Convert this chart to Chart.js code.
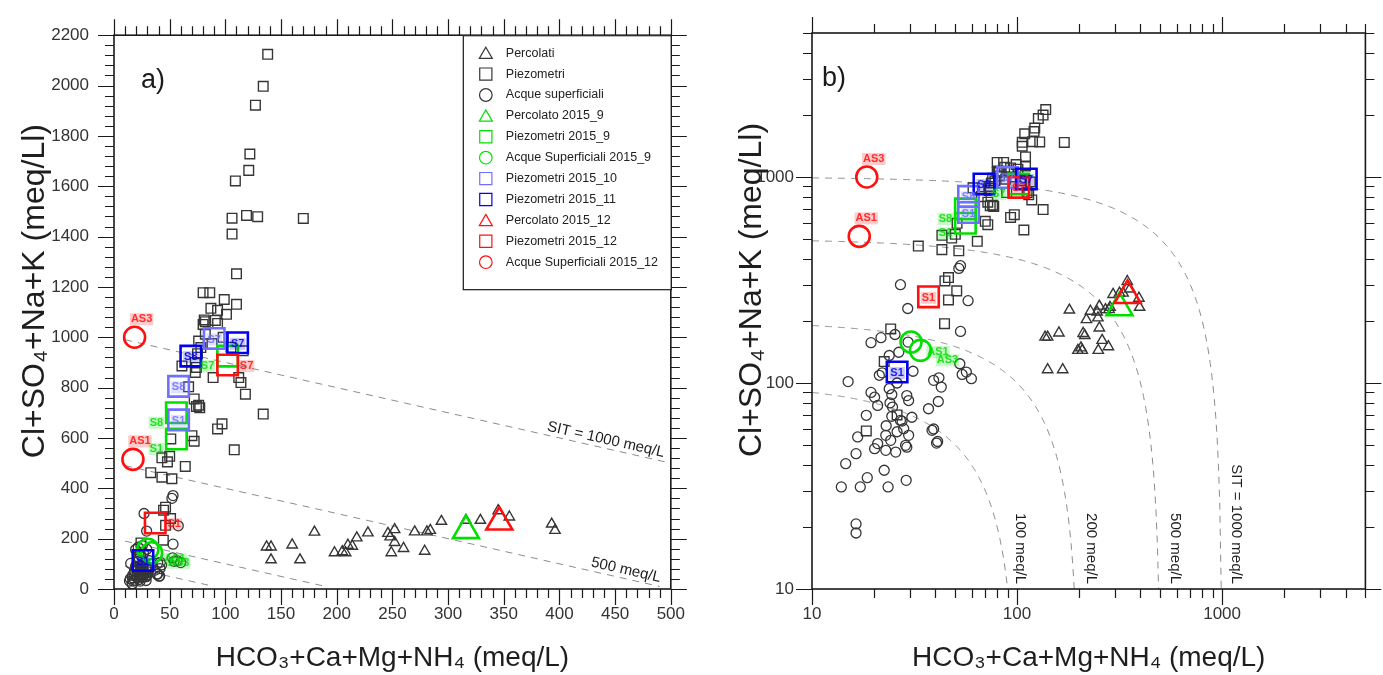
<!DOCTYPE html>
<html><head><meta charset="utf-8">
<script src="https://cdn.jsdelivr.net/npm/chart.js@4/dist/chart.umd.min.js"></script>
<style>
html,body{margin:0;padding:0;background:#fff;width:1383px;height:675px;overflow:hidden}
#wa{position:absolute;left:0;top:0;width:700px;height:675px}
#wb{position:absolute;left:700px;top:0;width:683px;height:675px}
</style></head><body>
<div id="wa"><canvas id="ca" width="700" height="675"></canvas></div>
<div id="wb"><canvas id="cb" width="683" height="675"></canvas></div>
<script>
const FONT = '"Liberation Sans", Arial, Helvetica, sans-serif';

// ---------------- data (x = HCO3+Ca+Mg+NH4, y = Cl+SO4+Na+K, meq/L) ----------------
const PERCOLATI = [[137,167],[141,167],[141,116],[160,175],[167,116],[180,226],[198,144],[205,148],[208,144],[210,174],[214,170],[218,203],[228,223],[246,221],[248,207],[249,144],[252,236],[252,185],[260,161],[270,227],[279,150],[281,227],[284,233],[294,269],[316,273],[329,273],[345,311],[355,286],[393,258],[396,233]];
const PIEZOMETRI = [[138,2124],[134,1997],[127,1922],[122,1728],[121,1663],[109,1621],[106,1473],[119,1484],[129,1479],[170,1472],[106,1410],[110,1252],
 [80,1177],[86,1177],[99,1150],[110,1131],[87,1115],[93,1107],[101,1091],[82,1062],[80,1051],[91,1067],[93,1055],[81,1069],[82,1012],
 [76,985],[78,959],[75,935],[88,975],[98,1000],[105,960],[116,946],[61,886],[73,900],[74,880],[73,860],[89,840],[112,840],[114,820],[118,774],[67,803],[72,755],
 [74,725],[77,720],[76,730],[134,695],[97,656],[93,636],[70,609],[72,587],[51,596],[108,553],[43,521],[50,527],[48,505],[64,487],[33,462],[43,444],[52,438],
 [44.5,313],[46.3,325],[50.8,280],[46.3,253],[44.3,194],[24.2,183],[22.5,127],[26,70],[18.4,58.5]];
const ACQUE_SUP = [[27,300],[29.3,230],[57.7,251],[53,178],[53,371],[52,360],[19.4,157],[21.7,166],[25.4,172],[29.4,158],[52.6,124],[56.6,113],[54,110],[59.9,105],
 [31.1,114],[15,101.6],[21.3,109],[22,112],[39.2,103],[41.6,106],[42.7,95.5],[23.8,93.8],[24.5,87.9],[20.2,85.3],[20.9,77.8],[29,86.9],[29.6,82.2],[37,75],
 [41.3,81.3],[18.4,69.7],[24.7,76.4],[24.5,68.9],[27,65.8],[27.5,65.3],[30.7,68.2],[38.5,58.9],[39.2,59.8],[40.5,51.1],[41,52],[16.7,54.7],[22.9,55.7],
 [24.2,52.7],[20.9,50.8],[22.9,47.1],[25.6,46.2],[29,48.8],[28.6,49.8],[29.6,55.7],[20.2,48],[16.4,45.4],[14.6,40.6],[22.5,37.7],[18.6,34.7],[28.8,33.7],
 [13.9,31.3],[17.2,31.3],[23.5,31.3],[16.4,20.7],[16.4,18.7],[23.8,136],[26.5,141],[19.4,90],[26,100],[24,80],[28,60],[26,58],[23,62]];
const PERCOLATO_2015_9 = [[316,232]];
const PIEZOMETRI_2015_9 = [[56,700],[56,596],[102,925]];
const PIEZOMETRI_2015_9_LBL = ['S8','S1','S7'];
const ACQUE_SUP_2015_9 = [[30.4,158],[33.8,144]];
const ACQUE_SUP_2015_9_LBL = ['AS1','AS3'];
const PIEZOMETRI_2015_10 = [[90,995],[58,805],[58,672]];
const PIEZOMETRI_2015_10_LBL = ['S7','S8','S1'];
const PIEZOMETRI_2015_11 = [[69,925],[111,978],[26,113]];
const PIEZOMETRI_2015_11_LBL = ['S8','S7','S1'];
const PERCOLATO_2015_12 = [[346,266]];
const PIEZOMETRI_2015_12 = [[37,262],[102,890]];
const PIEZOMETRI_2015_12_LBL = ['S1','S7'];
const ACQUE_SUP_2015_12 = [[18.5,1000],[17,515]];
const ACQUE_SUP_2015_12_LBL = ['AS3','AS1'];

const SIT_LEVELS = [100, 200, 500, 1000];
const X_TICKS_LIN = [0,50,100,150,200,250,300,350,400,450,500];
const Y_TICKS_LIN = [0,200,400,600,800,1000,1200,1400,1600,1800,2000,2200];
const TICKS_LOG = [10,100,1000];

const X_TITLE = 'HCO\u2083+Ca+Mg+NH\u2084 (meq/L)';
const Y_TITLE = 'Cl+SO\u2084+Na+K (meq/Ll)';

// ---------------- styles ----------------
const GRAY = '#363636', GREEN = '#00e000', LBLUE = '#7070ff', BLUE = '#0000ee', RED = '#ff1010';

function pts(a){ return a.map(([x,y]) => ({x, y})); }
function ds(label, arr, style, r, color, bw, order, lbl, key){
  return {label, data: pts(arr), pointStyle: style, pointRadius: r, pointHoverRadius: r,
    borderColor: color, pointBorderColor: color, borderWidth: bw, pointBorderWidth: bw,
    backgroundColor: 'rgba(0,0,0,0)', pointBackgroundColor: 'rgba(0,0,0,0)', order, pointLabels: lbl, key};
}
function buildDatasets(){
  return [
    ds('Percolati', PERCOLATI, 'triangle', 6, GRAY, 1.4, 10),
    ds('Piezometri', PIEZOMETRI, 'rect', 6.8, GRAY, 1.4, 10),
    ds('Acque superficiali', ACQUE_SUP, 'circle', 5, GRAY, 1.3, 10),
    ds('Percolato 2015_9', PERCOLATO_2015_9, 'triangle', 15, GREEN, 2.6, 6),
    ds('Piezometri 2015_9', PIEZOMETRI_2015_9, 'rect', 14.5, GREEN, 2.6, 6, PIEZOMETRI_2015_9_LBL, 'g'),
    ds('Acque Superficiali 2015_9', ACQUE_SUP_2015_9, 'circle', 10.5, GREEN, 2.6, 6, ACQUE_SUP_2015_9_LBL, 'gc'),
    ds('Piezometri 2015_10', PIEZOMETRI_2015_10, 'rect', 14.5, LBLUE, 2.6, 5, PIEZOMETRI_2015_10_LBL, 'lb'),
    ds('Piezometri 2015_11', PIEZOMETRI_2015_11, 'rect', 14.5, BLUE, 2.6, 4, PIEZOMETRI_2015_11_LBL, 'b'),
    ds('Percolato 2015_12', PERCOLATO_2015_12, 'triangle', 15, RED, 2.6, 3),
    ds('Piezometri 2015_12', PIEZOMETRI_2015_12, 'rect', 14.5, RED, 2.6, 3, PIEZOMETRI_2015_12_LBL, 'r'),
    ds('Acque Superficiali 2015_12', ACQUE_SUP_2015_12, 'circle', 10.5, RED, 2.6, 3, ACQUE_SUP_2015_12_LBL, 'rc')
  ];
}

// ---------------- plugins ----------------
const frameTicks = {
  id: 'frameTicks',
  afterDraw(chart){
    const o = chart.options.plugins.frameTicks;
    const {ctx, chartArea: a} = chart; const sx = chart.scales.x, sy = chart.scales.y;
    ctx.save(); ctx.strokeStyle = '#1a1a1a'; ctx.lineWidth = 1.2; ctx.beginPath();
    const hx = (vals, len) => { for (const v of vals){ const p = Math.round(sx.getPixelForValue(v)) + 0.5;
      ctx.moveTo(p, a.bottom); ctx.lineTo(p, a.bottom + len); ctx.moveTo(p, a.top); ctx.lineTo(p, a.top - len);} };
    const vy = (vals, len) => { for (const v of vals){ const p = Math.round(sy.getPixelForValue(v)) + 0.5;
      ctx.moveTo(a.left, p); ctx.lineTo(a.left - len, p); ctx.moveTo(a.right, p); ctx.lineTo(a.right + len, p);} };
    hx(o.xMajor, 16); hx(o.xMinor, 9); vy(o.yMajor, 16); vy(o.yMinor, 9);
    ctx.stroke();
    ctx.lineWidth = 1.6; ctx.strokeRect(a.left, a.top, a.right - a.left, a.bottom - a.top);
    ctx.fillStyle = '#1a1a1a'; ctx.font = '27px ' + FONT; ctx.textAlign = 'left'; ctx.textBaseline = 'alphabetic';
    ctx.fillText(o.panel, a.left + o.panelDx, a.top + 53);
    // y-axis title (placed slightly above the axis centre, as in the source figure)
    ctx.save(); ctx.fillStyle = '#1e1e1e'; ctx.font = '32px ' + FONT;
    ctx.translate(o.yTitleX, (a.top + a.bottom) / 2 - 21); ctx.rotate(-Math.PI / 2);
    ctx.textAlign = 'center'; ctx.textBaseline = 'middle'; ctx.fillText(Y_TITLE, 0, 0); ctx.restore();
    ctx.restore();
  }
};

const sitLines = {
  id: 'sitLines',
  beforeDatasetsDraw(chart){
    const o = chart.options.plugins.sitLines;
    const {ctx, chartArea: a, scales: {x, y}} = chart;
    ctx.save(); ctx.beginPath(); ctx.rect(a.left, a.top, a.right - a.left, a.bottom - a.top); ctx.clip();
    ctx.setLineDash([7, 6]); ctx.strokeStyle = '#8c8c8c'; ctx.lineWidth = 1;
    for (const s of SIT_LEVELS){
      ctx.beginPath();
      const x0 = 10, x1 = s - 10, n = o.log ? 300 : 1;
      for (let i = 0; i <= n; i++){
        const xv = o.log ? x0 * Math.pow(x1 / x0, i / n) : x0 + (x1 - x0) * i / n;
        const px = x.getPixelForValue(xv), py = y.getPixelForValue(s - xv);
        if (i) ctx.lineTo(px, py); else ctx.moveTo(px, py);
      }
      ctx.stroke();
    }
    ctx.restore();
    ctx.save(); ctx.fillStyle = '#1e1e1e'; ctx.font = '15px ' + FONT;
    for (const L of o.labels){
      if (o.log){
        const px = x.getPixelForValue(L.at);
        ctx.save(); ctx.translate(px, a.bottom - 5); ctx.rotate(Math.PI / 2);
        ctx.textAlign = 'right'; ctx.textBaseline = 'middle'; ctx.fillText(L.text, 0, 0); ctx.restore();
      } else {
        const p1x = x.getPixelForValue(L.at - 20), p1y = y.getPixelForValue(L.level - L.at + 20);
        const p2x = x.getPixelForValue(L.at + 20), p2y = y.getPixelForValue(L.level - L.at - 20);
        const ang = Math.atan2(p2y - p1y, p2x - p1x);
        const cx = x.getPixelForValue(L.at), cy = y.getPixelForValue(L.level - L.at);
        ctx.save(); ctx.translate(cx, cy); ctx.rotate(ang);
        ctx.textAlign = 'center'; ctx.textBaseline = 'bottom'; ctx.fillText(L.text, 0, -1); ctx.restore();
      }
    }
    ctx.restore();
  }
};

function hexA(c, a){ const n = parseInt(c.slice(1), 16); return `rgba(${n>>16},${(n>>8)&255},${n&255},${a})`; }
const markLabels = {
  id: 'markLabels',
  afterDatasetsDraw(chart){
    const o = chart.options.plugins.markLabels;
    const {ctx, scales: {x, y}} = chart;
    ctx.save(); ctx.font = 'bold 11px ' + FONT; ctx.textAlign = 'center'; ctx.textBaseline = 'middle';
    for (const d of chart.data.datasets){
      if (!d.pointLabels) continue;
      const place = o.place[d.key];
      d.data.forEach((p, i) => {
        const t = d.pointLabels[i];
        const px = x.getPixelForValue(p.x), py = y.getPixelForValue(p.y);
        let tx = px, ty = py + 1;
        if (place === 'above'){ tx = px + 7; ty = py - 18; }
        else if (place === 'right'){ tx = px + 19; ty = py + 1; }
        else if (place === 'left'){ tx = px - 20; ty = py + 10; }
        else if (place === 'rightBelow'){ tx = px + 27; ty = py + 10; }
        const w = ctx.measureText(t).width;
        ctx.fillStyle = hexA(d.borderColor, 0.22); ctx.fillRect(tx - w/2 - 1, ty - 6, w + 2, 12);
        ctx.fillStyle = d.borderColor; ctx.globalAlpha = 0.85; ctx.fillText(t, tx, ty); ctx.globalAlpha = 1;
      });
    }
    ctx.restore();
  }
};

const boxLegend = {
  id: 'boxLegend',
  afterDraw(chart){
    const o = chart.options.plugins.boxLegend; if (!o || !o.show) return;
    const {ctx, chartArea: a} = chart;
    const L = a.right - 208, T = a.top, W = 208, H = 254;
    ctx.save(); ctx.fillStyle = '#fff'; ctx.fillRect(L, T, W, H);
    ctx.strokeStyle = '#1a1a1a'; ctx.lineWidth = 1.2; ctx.strokeRect(L + 0.5, T + 0.5, W, H);
    ctx.font = '12.5px ' + FONT; ctx.textAlign = 'left'; ctx.textBaseline = 'middle';
    chart.data.datasets.forEach((d, i) => {
      const cy = T + 18 + i * 20.9, cx = L + 23;
      const r = d.pointStyle === 'triangle' ? 7.5 : d.pointStyle === 'rect' ? 8.6 : 6.3;
      ctx.strokeStyle = d.borderColor; ctx.fillStyle = 'rgba(0,0,0,0)';
      Chart.helpers.drawPoint(ctx, {pointStyle: d.pointStyle, rotation: 0, radius: r, borderWidth: d.borderWidth > 2 ? 2 : 1.4}, cx, cy + (d.pointStyle === 'triangle' ? 1.5 : 0));
      ctx.fillStyle = '#222'; ctx.fillText(d.label, L + 43, cy);
    });
    ctx.restore();
  }
};

// ---------------- charts ----------------
function range(a, b, s){ const r = []; for (let v = a; v <= b + 1e-9; v += s) r.push(v); return r; }
const linXMinor = range(0, 500, 10).filter(v => v % 50 !== 0);
const linYMinor = range(0, 2200, 40).filter(v => v % 200 !== 0);
const logMinor = [];
for (const dec of [10, 100, 1000]) for (let k = 2; k <= 9; k++) if (k * dec <= 5000) logMinor.push(k * dec);

function axis(kind, isX, o){
  const lin = kind === 'linear';
  return {
    type: kind, min: lin ? 0 : 10, max: lin ? (isX ? 500 : 2200) : 5000,
    afterBuildTicks(s){ s.ticks = (lin ? (isX ? X_TICKS_LIN : Y_TICKS_LIN) : TICKS_LOG).map(v => ({value: v})); },
    afterFit(s){ if (isX) s.height = 86; else s.width = o.yWidth; },
    grid: {display: false, drawTicks: false}, border: {display: false},
    ticks: {font: {family: FONT, size: 17}, color: '#333', padding: isX ? 15 : o.yPad,
      maxRotation: 0, autoSkip: false, callback: v => String(v)},
    title: {display: isX, text: isX ? X_TITLE : Y_TITLE, color: '#1e1e1e',
      font: {family: FONT, size: 28}, padding: {top: 0, bottom: 0}}
  };
}

function makeChart(id, kind, o){
  return new Chart(document.getElementById(id), {
    type: 'scatter',
    data: {datasets: buildDatasets()},
    options: {
      responsive: false, animation: false, devicePixelRatio: 1, events: [],
      layout: {padding: {left: 0, right: o.padRight, top: 33, bottom: 0}},
      scales: {x: axis(kind, true, o), y: axis(kind, false, o)},
      plugins: {
        legend: {display: false}, tooltip: {enabled: false},
        frameTicks: o.ticks, sitLines: o.sit, markLabels: {place: o.place}, boxLegend: {show: o.legend}
      }
    },
    plugins: [sitLines, markLabels, frameTicks, boxLegend]
  });
}

makeChart('ca', 'linear', {
  padRight: 28, yWidth: 114, yPad: 25, legend: true,
  ticks: {xMajor: X_TICKS_LIN, xMinor: linXMinor, yMajor: Y_TICKS_LIN, yMinor: linYMinor, panel: 'a)', panelDx: 27, yTitleX: 35},
  sit: {log: false, labels: [{level: 1000, text: 'SIT = 1000 meq/L', at: 440}, {level: 500, text: '500 meq/L', at: 458}]},
  place: {g: 'left', gc: 'rightBelow', lb: 'inside', b: 'inside', r: 'right', rc: 'above'}
});
makeChart('cb', 'logarithmic', {
  padRight: 11, yWidth: 112, yPad: 18, legend: false,
  ticks: {xMajor: TICKS_LOG, xMinor: logMinor, yMajor: TICKS_LOG, yMinor: logMinor, panel: 'b)', panelDx: 10, yTitleX: 52},
  sit: {log: true, labels: [{level: 100, text: '100 meq/L', at: 104}, {level: 200, text: '200 meq/L', at: 231},
    {level: 500, text: '500 meq/L', at: 588}, {level: 1000, text: 'SIT = 1000 meq/L', at: 1175}]},
  place: {g: 'left', gc: 'rightBelow', lb: 'inside', b: 'inside', r: 'inside', rc: 'above'}
});
</script>
</body></html>
